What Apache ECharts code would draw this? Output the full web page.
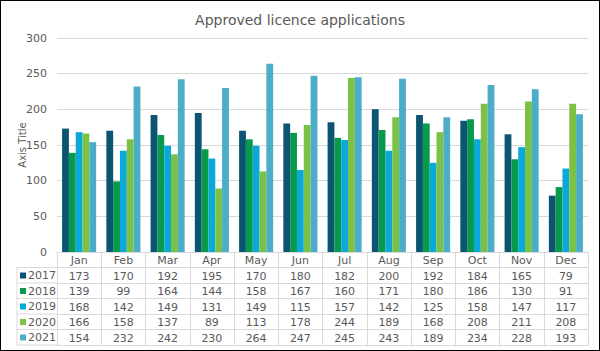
<!DOCTYPE html>
<html>
<head>
<meta charset="utf-8">
<script src="https://cdn.jsdelivr.net/npm/echarts@6/dist/echarts.min.js"></script>
<style>
  html, body { margin: 0; padding: 0; background: #fff; }
  #chart { width: 598px; height: 349px; border: 1px solid #000; }
</style>
</head>
<body>
<div id="chart"></div>
<script>
// Approved licence applications by month, 2017-2021
const months = ['Jan', 'Feb', 'Mar', 'Apr', 'May', 'Jun', 'Jul', 'Aug', 'Sep', 'Oct', 'Nov', 'Dec'];
const years = ['2017', '2018', '2019', '2020', '2021'];
const v2017 = [173, 170, 192, 195, 170, 180, 182, 200, 192, 184, 165, 79];
const v2018 = [139, 99, 164, 144, 158, 167, 160, 171, 180, 186, 130, 91];
const v2019 = [168, 142, 149, 131, 149, 115, 157, 142, 125, 158, 147, 117];
const v2020 = [166, 158, 137, 89, 113, 178, 244, 189, 168, 208, 211, 208];
const v2021 = [154, 232, 242, 230, 264, 247, 245, 243, 189, 234, 228, 193];
const values = [v2017, v2018, v2019, v2020, v2021];
const colors = ['#0b5572', '#07994c', '#0aa9da', '#7bc143', '#4badc7'];

const font = 'DejaVu Sans';
const textCol = '#595959';
const lineCol = '#d9d9d9';

// table geometry (px inside the chart box)
const gridLeft = 56, gridRight = 11, gridTop = 37, gridBottom = 98;
const rowH = 15.5;
const boxH = 349;
const axisY = boxH - gridBottom;     // y of category axis line
const legendX = 16;

const chart = echarts.init(document.getElementById('chart'), null, { renderer: 'svg' });

// one x axis per table row: month row, then one per year, then the closing line
const tableAxis = (i) => ({
  type: 'category',
  data: months,
  position: 'bottom',
  offset: rowH * i,
  axisLine: { show: true, lineStyle: { color: lineCol } },
  axisTick: { show: i < 6, length: rowH, interval: 0, lineStyle: { color: lineCol } },
  axisLabel: {
    show: i < 6,
    interval: 0, margin: 3,
    color: textCol, fontFamily: font, fontSize: 11,
    formatter: i === 0 ? null : (v, idx) => String(values[i - 1][idx]),
  },
});

const xAxes = [];
for (let i = 0; i <= 6; i++) xAxes.push(tableAxis(i));

// borders of the legend column on the left of the table
const gfx = [];
for (let k = 0; k <= 5; k++) {
  const y = axisY + rowH * (k + 1);
  gfx.push({ type: 'line', shape: { x1: legendX, y1: y, x2: gridLeft, y2: y }, style: { stroke: lineCol, lineWidth: 1 } });
}
gfx.push({ type: 'line', shape: { x1: legendX, y1: axisY + rowH, x2: legendX, y2: axisY + rowH * 6 }, style: { stroke: lineCol, lineWidth: 1 } });

// one legend per row so each key sits in its own table row
const legends = years.map((y, i) => ({
  data: [y],
  left: legendX + 3, top: axisY + rowH * (i + 1) + 1,
  padding: 0,
  icon: 'rect', itemWidth: 6, itemHeight: 6,
  textStyle: { color: textCol, fontFamily: font, fontSize: 11, lineHeight: 14, padding: [0, 0, 0, -3] },
}));

chart.setOption({
  backgroundColor: '#fff',
  animation: false,
  color: colors,
  title: {
    text: 'Approved licence applications',
    left: 'center', top: 7,
    textStyle: { color: textCol, fontFamily: font, fontSize: 14, fontWeight: 'normal' },
  },
  grid: { left: gridLeft, right: gridRight, top: gridTop, bottom: gridBottom, containLabel: false },
  legend: legends,
  xAxis: xAxes,
  yAxis: {
    type: 'value',
    min: 0, max: 300, interval: 50,
    name: 'Axis Title', nameLocation: 'middle', nameGap: 30, nameMoveOverlap: false,
    nameTextStyle: { color: textCol, fontFamily: font, fontSize: 10 },
    axisLine: { show: false },
    axisTick: { show: false },
    axisLabel: { color: textCol, fontFamily: font, fontSize: 11, margin: 10 },
    splitLine: { lineStyle: { color: lineCol } },
  },
  graphic: gfx,
  series: years.map((y, i) => ({
    name: y, type: 'bar', xAxisIndex: 0, data: values[i],
    barGap: 0, barCategoryGap: '23%',
  })),
});
</script>
</body>
</html>
